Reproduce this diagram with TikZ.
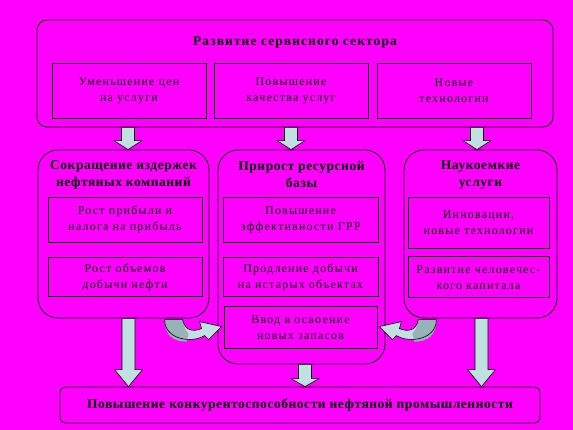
\documentclass[tikz,border=0pt]{standalone}
\usepackage{fontspec}
\setmainfont{Liberation Serif}
\usepackage{tikz}
\usetikzlibrary{positioning, calc}

\definecolor{bgmagenta}{RGB}{255,0,255}
\definecolor{arrowcyan}{RGB}{192,224,226}
\definecolor{arrowgray}{RGB}{150,180,182}

% fat arrow: x, from node, to node, head length
\newcommand{\blockarrow}[4]{%
  \draw[arrowbody] let \p0=(#1,0), \p1=(#2.south), \p2=(#3.north) in
    ({\x0-6.5pt},\y1) -- ({\x0-6.5pt},{\y2+#4}) -- ({\x0-14pt},{\y2+#4}) -- (\x0,\y2)
    -- ({\x0+14pt},{\y2+#4}) -- ({\x0+6.5pt},{\y2+#4}) -- ({\x0+6.5pt},\y1) -- cycle;}

% bent arrow into a node side, local coords from the anchor
\newcommand{\bentarrow}{%
  \fill[arrowcyan] (-59,-8) -- (-41,-8) .. controls (-39,2) and (-32,5) .. (-22,1)
    -- (-24,-6) -- (-2,-1) -- (-15,12) -- (-19,8)
    .. controls (-32,16) and (-59,12) .. cycle;
  \fill[arrowgray] (-59,-8) -- (-41,-8) .. controls (-40,0) and (-37,4) .. (-35,6)
    -- (-37,14) .. controls (-50,14) and (-59,8) .. cycle;
  \draw[line width=0.6pt] (-59,-8) -- (-41,-8) .. controls (-39,2) and (-32,5) .. (-22,1)
    -- (-24,-6) -- (-2,-1) -- (-15,12) -- (-19,8)
    .. controls (-32,16) and (-59,12) .. cycle;}

\begin{document}
\begin{tikzpicture}[x=1pt, y=-1pt,
    group/.style={draw, line width=0.8pt, rounded corners=20pt, inner sep=0pt},
    inbox/.style={draw, line width=0.8pt, align=center, inner sep=0pt,
      font=\fontsize{12}{16}\selectfont\addfontfeatures{LetterSpace=10}},
    title/.style={align=center, inner sep=0pt,
      font=\fontsize{13.5}{17}\selectfont\bfseries\addfontfeatures{LetterSpace=4}},
    arrowbody/.style={draw, fill=arrowcyan, line width=0.6pt}]
    \fill[bgmagenta] (0,0) rectangle (573,430);

    % top block
    \node[group, rounded corners=10pt, minimum width=516pt, minimum height=107pt] (service) at (295,73.5) {};
    \node[title, font=\fontsize{13.5}{17}\selectfont\bfseries\addfontfeatures{LetterSpace=8}] (service-title) [below=17pt of service.north] {Развитие сервисного сектора};
    \node[inbox, minimum width=154pt, minimum height=55pt] (prices) [below=43pt of service.north, xshift=-166pt] {Уменьшение цен\\на услуги};
    \node[inbox, minimum width=154pt, minimum height=55pt] (quality) [below=43pt of service.north, xshift=-4pt] {Повышение\\качества услуг};
    \node[inbox, minimum width=154pt, minimum height=55pt] (newtech) [below=43pt of service.north, xshift=159pt] {Новые\\технологии};

    % middle blocks
    \node[group, minimum width=171pt, minimum height=168pt] (costs) at (123.5,234) {};
    \node[group, minimum width=167pt, minimum height=214pt] (resources) at (301.5,257) {};
    \node[group, minimum width=153pt, minimum height=168pt] (know) at (480.5,234) {};

    \node[title] (costs-title) [below=11pt of costs.north] {Сокращение издержек\\нефтяных компаний};
    \node[title] (resources-title) [below=11pt of resources.north] {Прирост ресурсной\\базы};
    \node[title] (know-title) [below=11pt of know.north] {Наукоемкие\\услуги};

    \node[inbox, minimum width=154pt, minimum height=45pt] (profit) [below=47pt of costs.north, xshift=1.5pt] {Рост прибыли и\\налога на прибыль};
    \node[inbox, minimum width=154pt, minimum height=39pt] (output) [below=15pt of profit] {Рост объемов\\добычи нефти};

    \node[inbox, minimum width=155pt, minimum height=45pt] (grr) [below=47pt of resources.north, xshift=-1pt] {Повышение\\эффективности ГРР};
    \node[inbox, minimum width=155pt, minimum height=39pt] (oldfields) [below=15pt of grr] {Продление добычи\\на истарых объектах};
    \node[inbox, minimum width=153pt, minimum height=42pt] (newres) [below=9pt of oldfields] {Ввод в освоение\\новых запасов};

    \node[inbox, minimum width=141pt, minimum height=51pt] (innov) [below=47pt of know.north, xshift=-2pt] {Инновации,\\новые технологии};
    \node[inbox, minimum width=141pt, minimum height=41pt] (human) [below=8pt of innov] {Развитие человечес-\\кого капитала};

    % bottom block
    \node[group, rounded corners=5pt, minimum width=480pt, minimum height=36pt,
      font=\fontsize{13.5}{17}\selectfont\bfseries\addfontfeatures{LetterSpace=4}] (goal) at (300,405) {Повышение конкурентоспособности нефтяной промышленности};

    % arrows
    \blockarrow{128}{service}{costs}{9pt}
    \blockarrow{291}{service}{resources}{9pt}
    \blockarrow{477}{service}{know}{9pt}
    \blockarrow{128.5}{costs}{goal}{17pt}
    \blockarrow{305}{resources}{goal}{8pt}
    \blockarrow{481.5}{know}{goal}{17pt}

    \begin{scope}[shift={(newres.west)}]
      \bentarrow
    \end{scope}
    \begin{scope}[shift={(newres.east)}, xscale=-1]
      \bentarrow
    \end{scope}
\end{tikzpicture}
\end{document}
